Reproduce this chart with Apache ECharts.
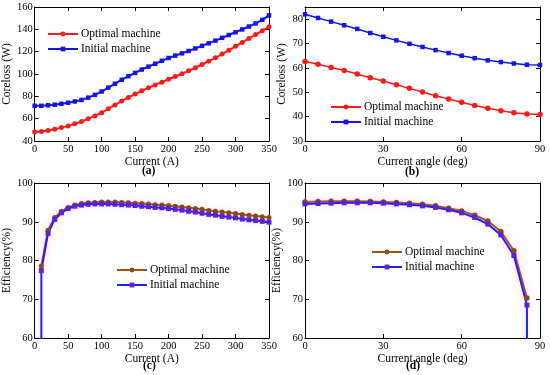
<!DOCTYPE html>
<html><head><meta charset="utf-8">
<script src="https://cdn.jsdelivr.net/npm/echarts@6/dist/echarts.min.js"></script>
<style>html,body{margin:0;padding:0;background:#fff}#c{width:550px;height:375px}</style>
</head><body><div id="c"></div>
<script>
// (a) Coreloss vs current
const currentA = [0,10,20,30,40,50,60,70,80,90,100,110,120,130,140,150,160,170,180,190,200,210,220,230,240,250,260,270,280,290,300,310,320,330,340,350];
const corelossOptA = [48,48.5,49.5,50.5,52,53.5,55.5,57.5,60,62.5,65.3,68.8,72.3,75.8,79,82,85,87.6,90.2,92.7,95.3,97.8,100.3,102.8,105.6,108.5,111.5,114.5,117.8,121.3,124.8,128.3,131.8,135.3,138.8,142.3];
const corelossInitA = [71.5,71.5,72,72.5,73.3,74.3,75.4,76.8,78.8,81.3,84.3,87.8,91.3,94.8,98,101,104,106.6,109.2,111.8,114.3,116.5,118.5,120.6,122.9,125.2,127.5,129.9,132.4,134.9,137.4,139.9,142.5,145.3,148.5,152.5];
// (b) Coreloss vs current angle
const angleB = [0,5,10,15,20,25,30,35,40,45,50,55,60,65,70,75,80,85,90];
const corelossOptB = [62.6,61.5,60.2,58.9,57.5,56,54.6,53.1,51.6,50.1,48.6,47.2,45.9,44.6,43.4,42.4,41.6,41.1,40.9];
const corelossInitB = [82,80.5,79,77.5,76,74.3,72.8,71.3,69.9,68.6,67.3,66.1,65,64,63.1,62.4,61.8,61.3,61.2];
// (c) Efficiency vs current
const currentC = [10,20,30,40,50,60,70,80,90,100,110,120,130,140,150,160,170,180,190,200,210,220,230,240,250,260,270,280,290,300,310,320,330,340,350];
const effOptC = [78.6,87.8,91.1,92.7,93.7,94.3,94.7,94.9,95,95.1,95.1,95.1,95,94.9,94.8,94.7,94.6,94.4,94.3,94.2,94,93.8,93.6,93.4,93.2,92.9,92.7,92.5,92.3,92.1,91.9,91.7,91.5,91.3,91.1];
const currentInitC = [10,10,20,30,40,50,60,70,80,90,100,110,120,130,140,150,160,170,180,190,200,210,220,230,240,250,260,270,280,290,300,310,320,330,340,350];
const effInitC = [50,77.4,87,90.6,92.3,93.4,94,94.3,94.5,94.6,94.6,94.6,94.5,94.4,94.3,94.2,94,93.9,93.7,93.6,93.4,93.2,93,92.7,92.5,92.2,91.9,91.7,91.4,91.2,91,90.7,90.5,90.3,90.1,89.9];
// (d) Efficiency vs current angle
const angleD = [0,5,10,15,20,25,30,35,40,45,50,55,60,65,70,75,80,85];
const effOptD = [95.1,95.2,95.3,95.3,95.3,95.2,95.1,95,94.8,94.5,94.1,93.5,92.8,91.7,90.2,87.5,82.5,70.3];
const angleInitD = [0,5,10,15,20,25,30,35,40,45,50,55,60,65,70,75,80,85,85];
const effInitD = [94.6,94.7,94.8,94.9,94.9,94.9,94.8,94.6,94.4,94.1,93.7,93.1,92.3,91.1,89.4,86.6,81.3,68.5,50];

const xTicksA = [0,350,50], yTicksA = [40,160,20];
const xTicksB = [0,90,30], yTicksB = [30,85,10];
const xTicksC = [0,350,50], yTicksC = [60,100,10];
const xTicksD = [0,90,30], yTicksD = [60,100,10];

const FONT = 'Liberation Serif';
const pair = (xs, ys) => xs.map((x, i) => [x, ys[i]]);

const grids = [
  {left: 31, top: 7, width: 238, height: 134},
  {left: 305, top: 7, width: 235, height: 134},
  {left: 29, top: 183, width: 240, height: 155},
  {left: 305, top: 183, width: 235, height: 155}
];
const xt = [xTicksA, xTicksB, xTicksC, xTicksD];
const yt = [yTicksA, yTicksB, yTicksC, yTicksD];
const xNames = ['Current (A)', 'Current angle (deg)', 'Current (A)', 'Current angle (deg)'];
const yNames = ['Coreloss (W)', 'Coreloss (W)', 'Efficiency(%)', 'Efficiency(%)'];
const xNameGaps = [13, 13, 12, 12];
const yNameGaps = [19, 17, 15, 15];

const xAxis = [], yAxis = [];
grids.forEach((g, i) => {
  const common = {type: 'value', gridIndex: i, axisLine: {show: true, onZero: false, lineStyle: {color: '#000', width: 1}}, splitLine: {show: false}, axisTick: {inside: true, length: 4, lineStyle: {color: '#000'}}};
  xAxis.push(Object.assign({}, common, {position: 'bottom', min: xt[i][0], max: xt[i][1], interval: xt[i][2],
    axisLabel: {color: '#000', fontFamily: FONT, fontSize: 10.5, margin: 3},
    name: xNames[i], nameLocation: 'middle', nameGap: xNameGaps[i], nameTextStyle: {color: '#000', fontFamily: FONT, fontSize: 11.5}}));
  xAxis.push(Object.assign({}, common, {position: 'top', min: xt[i][0], max: xt[i][1], interval: xt[i][2], axisLabel: {show: false}}));
  yAxis.push(Object.assign({}, common, {position: 'left', min: yt[i][0], max: yt[i][1], interval: yt[i][2],
    axisLabel: {color: '#000', fontFamily: FONT, fontSize: 10.5, margin: 2, formatter: v => (v % yt[i][2] === 0 ? String(v) : '')},
    name: yNames[i], nameLocation: 'middle', nameGap: yNameGaps[i], nameTextStyle: {color: '#000', fontFamily: FONT, fontSize: 11.5}}));
  yAxis.push(Object.assign({}, common, {position: 'right', min: yt[i][0], max: yt[i][1], interval: yt[i][2], axisLabel: {show: false}}));
});

function ser(name, idx, data, color, mcolor, symbol, size, width, glow) {
  const ls = {color: color, width: width};
  if (glow) { ls.shadowColor = 'rgba(255,120,230,0.35)'; ls.shadowBlur = 7; }
  return {type: 'line', name: name, xAxisIndex: idx * 2, yAxisIndex: idx * 2, data: data, clip: true,
    symbol: symbol, symbolSize: size, showSymbol: true, animation: false,
    lineStyle: ls, itemStyle: {color: mcolor, borderWidth: 0}};
}
const RED = '#ff1a1a', BLUE = '#1414e6', BROWN = '#a0521e', BROWNM = '#8a4a14', BLUE2 = '#2222ee', PURP = '#5a22d8';
const series = [
  ser('Optimal machine|a', 0, pair(currentA, corelossOptA), RED, RED, 'circle', 5, 2),
  ser('Initial machine|a', 0, pair(currentA, corelossInitA), BLUE, BLUE, 'rect', 4.5, 2),
  ser('Optimal machine|b', 1, pair(angleB, corelossOptB), RED, RED, 'circle', 5.5, 1.5),
  ser('Initial machine|b', 1, pair(angleB, corelossInitB), BLUE, BLUE, 'rect', 4.5, 1.5),
  ser('Optimal machine|c', 2, pair(currentC, effOptC), BROWN, BROWNM, 'circle', 5, 2, true),
  ser('Initial machine|c', 2, pair(currentInitC, effInitC), BLUE2, PURP, 'rect', 5, 2, true),
  ser('Optimal machine|d', 3, pair(angleD, effOptD), BROWN, BROWNM, 'circle', 5.5, 2, true),
  ser('Initial machine|d', 3, pair(angleInitD, effInitD), BLUE2, PURP, 'rect', 5, 2, true)
];
const legPos = [[47, 28], [330, 101], [116, 264], [371, 246]];
const legend = ['a', 'b', 'c', 'd'].map((k, i) => ({
  data: ['Optimal machine|' + k, 'Initial machine|' + k], orient: 'vertical', left: legPos[i][0], top: legPos[i][1],
  itemWidth: 30, itemHeight: 6, itemGap: 3, padding: 0, selectedMode: false,
  formatter: n => n.split('|')[0], textStyle: {color: '#000', fontFamily: FONT, fontSize: 11.5, padding: [0, 0, 0, -2]}
}));
const panelLabels = [['(a)', 150, 172], ['(b)', 413, 173], ['(c)', 151, 367], ['(d)', 414, 367]];
const graphic = panelLabels.map(p => ({type: 'text', left: p[1] - 8, top: p[2] - 7,
  style: {text: p[0], fill: '#000', font: 'bold 11.5px "' + FONT + '"'}}));

const chart = echarts.init(document.getElementById('c'), null, {renderer: 'canvas'});
chart.setOption({animation: false, backgroundColor: '#fff', grid: grids.map(g => Object.assign({containLabel: false, show: false}, g)),
  xAxis: xAxis, yAxis: yAxis, series: series, legend: legend, graphic: graphic});
</script></body></html>
